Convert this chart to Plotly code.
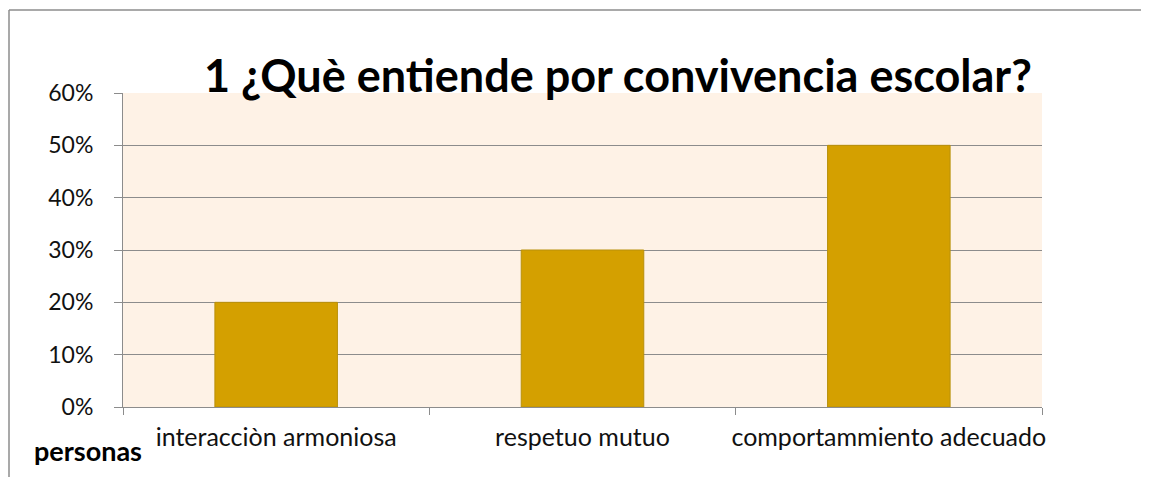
import plotly.graph_objects as go

categories = ["interacciòn armoniosa", "respetuo mutuo", "comportammiento adecuado"]
values = [0.20, 0.30, 0.50]
title_text = "1 ¿Què entiende por convivencia escolar?"
x_title = "personas"

# page body has an 8px margin; size the figure so it fits the 1149x485 window
OFF = 8
PAGE_W, PAGE_H = 1149, 485
W, H = PAGE_W - 2 * OFF, PAGE_H - 2 * OFF
# plot area in page pixels
PX0, PX1, PY0, PY1 = 123, 1042, 93, 407
L, R, T, B = PX0 - OFF, W - (PX1 - OFF), PY0 - OFF, H - (PY1 - OFF)
pw, ph = W - L - R, H - T - B

def px(x):
    return (x - OFF - L) / pw

def py(y):
    return (H - B - (y - OFF)) / ph

fig = go.Figure(go.Bar(
    x=categories, y=values,
    marker=dict(color="#D4A000", line=dict(color="#B8900A", width=1)),
))

fig.update_layout(
    width=W, height=H,
    margin=dict(l=L, r=R, t=T, b=B, autoexpand=False),
    paper_bgcolor="white",
    plot_bgcolor="#FEF2E6",
    bargap=0.6,
    showlegend=False,
    font=dict(family="Lato", color="#111111"),
    xaxis=dict(
        tickson="boundaries", ticks="outside", ticklen=7, tickcolor="#8C8C8C",
        showline=True, linecolor="#8C8C8C", linewidth=1, showgrid=False,
        tickangle=0, automargin=False,
        tickfont=dict(size=25, color="#111111"), ticklabelstandoff=8,
    ),
    yaxis=dict(
        range=[0, 0.6], dtick=0.1, tickformat=".0%", automargin=False,
        ticks="outside", ticklen=8, tickcolor="#8C8C8C",
        showline=True, linecolor="#8C8C8C", linewidth=1,
        showgrid=True, gridcolor="#8C8C8C", gridwidth=1, zeroline=False,
        tickfont=dict(size=23, color="#111111"), ticklabelstandoff=16,
    ),
    annotations=[
        dict(text=f"<b>{title_text}</b>", xref="paper", yref="paper",
             x=px(618), y=py(75), xanchor="center", yanchor="middle",
             showarrow=False, font=dict(size=45, color="black", family="Lato")),
        dict(text=f"<b>{x_title}</b>", xref="paper", yref="paper",
             x=px(32), y=py(450), xanchor="left", yanchor="middle",
             showarrow=False, font=dict(size=27, color="black", family="Lato")),
    ],
    shapes=[
        dict(type="line", xref="paper", yref="paper",
             x0=px(9), y0=py(10), x1=px(1141), y1=py(10),
             line=dict(color="#8C8C8C", width=1.5), layer="below"),
        dict(type="line", xref="paper", yref="paper",
             x0=px(9), y0=py(10), x1=px(9), y1=py(477),
             line=dict(color="#8C8C8C", width=1.5), layer="below"),
    ],
)

fig.write_html("out.html")
